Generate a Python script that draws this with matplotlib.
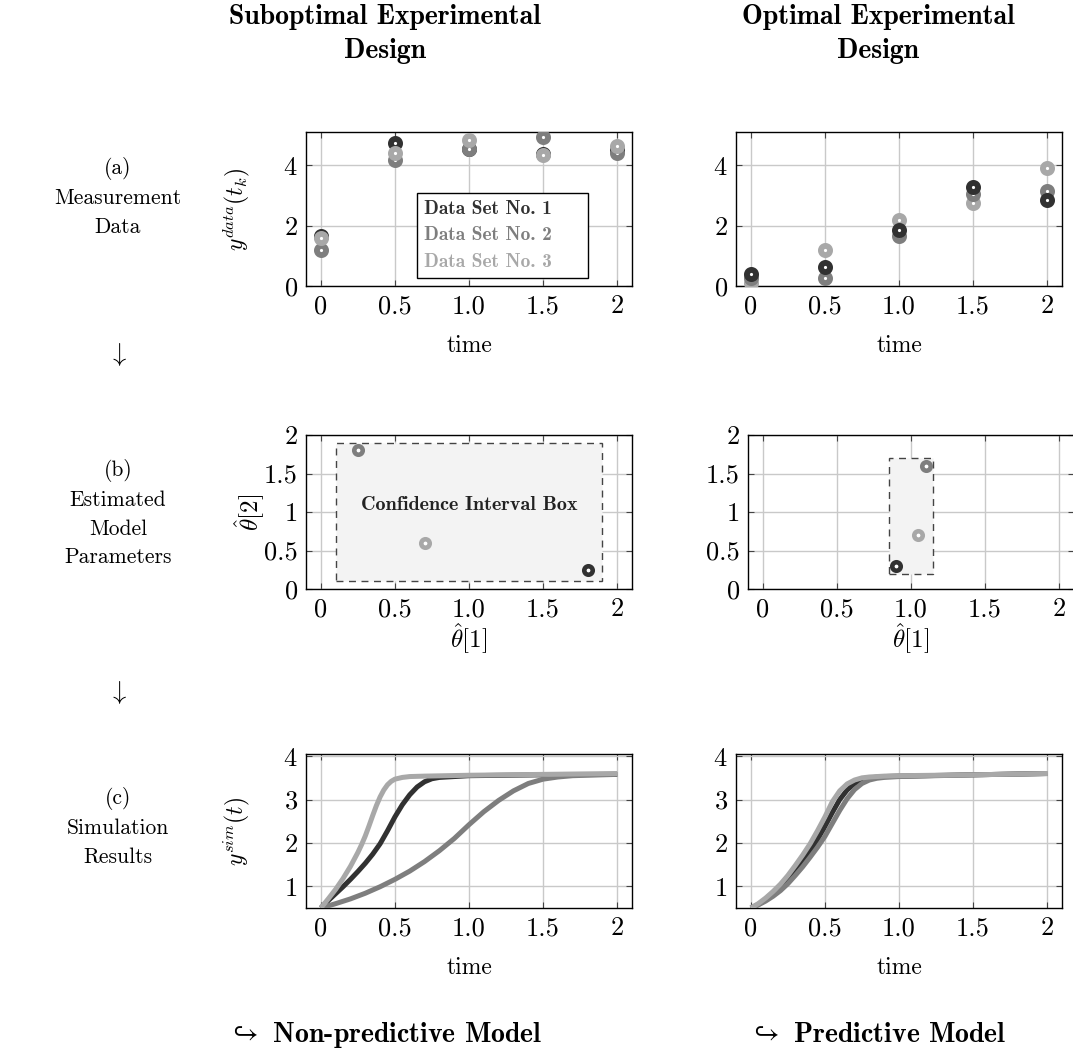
import matplotlib
matplotlib.use("Agg")
import matplotlib.pyplot as plt
from matplotlib.patches import Rectangle
from matplotlib.lines import Line2D

plt.rcParams['font.family'] = ['cmr10', 'DejaVu Serif']
plt.rcParams['mathtext.fontset'] = 'cm'
plt.rcParams['axes.formatter.use_mathtext'] = True

# ---------------- data ----------------
t_meas = [0, 0.5, 1.0, 1.5, 2.0]
# suboptimal design measurements
sub_set1 = [1.65, 4.75, 4.55, 4.37, 4.50]
sub_set2 = [1.20, 4.17, 4.53, 4.95, 4.40]
sub_set3 = [1.60, 4.42, 4.85, 4.33, 4.62]
# optimal design measurements
opt_set1 = [0.41, 0.64, 1.85, 3.28, 2.85]
opt_set2 = [0.25, 0.28, 1.65, 3.06, 3.15]
opt_set3 = [0.10, 1.19, 2.20, 2.76, 3.92]

# estimated parameters (theta1, theta2) for sets 1,2,3
sub_th1 = [1.80, 0.25, 0.70]
sub_th2 = [0.25, 1.80, 0.60]
opt_th1 = [0.90, 1.10, 1.05]
opt_th2 = [0.30, 1.60, 0.70]
# confidence interval boxes: (x0, x1, y0, y1)
sub_box = [0.1, 1.9, 0.1, 1.9]
opt_box = [0.85, 1.15, 0.2, 1.7]

# simulation results, suboptimal design
sim_sub_t1 = [0, 0.05, 0.1, 0.15, 0.2, 0.25, 0.3, 0.35, 0.4, 0.45, 0.5, 0.55, 0.6, 0.65, 0.7, 0.75, 0.8, 0.9, 1.0, 1.5, 2.0]
sim_sub_y1 = [0.5, 0.67, 0.83, 0.99, 1.16, 1.34, 1.53, 1.74, 1.98, 2.28, 2.6, 2.88, 3.11, 3.29, 3.41, 3.48, 3.51, 3.53, 3.55, 3.57, 3.58]
sim_sub_t2 = [0, 0.1, 0.2, 0.3, 0.4, 0.5, 0.6, 0.7, 0.8, 0.9, 1.0, 1.1, 1.2, 1.3, 1.4, 1.5, 1.6, 1.7, 1.8, 2.0]
sim_sub_y2 = [0.5, 0.6, 0.71, 0.84, 0.99, 1.16, 1.35, 1.57, 1.82, 2.1, 2.42, 2.72, 2.98, 3.2, 3.37, 3.47, 3.52, 3.55, 3.56, 3.58]
sim_sub_t3 = [0, 0.05, 0.1, 0.15, 0.2, 0.25, 0.275, 0.3, 0.325, 0.35, 0.375, 0.4, 0.425, 0.45, 0.475, 0.5, 0.55, 0.6, 0.7, 1.0, 1.5, 2.0]
sim_sub_y3 = [0.5, 0.71, 0.93, 1.18, 1.46, 1.78, 1.96, 2.16, 2.39, 2.63, 2.86, 3.06, 3.22, 3.34, 3.42, 3.47, 3.51, 3.53, 3.54, 3.56, 3.58, 3.6]
# simulation results, optimal design
sim_opt_t1 = [0, 0.05, 0.1, 0.15, 0.2, 0.25, 0.3, 0.35, 0.4, 0.45, 0.5, 0.55, 0.6, 0.65, 0.7, 0.75, 0.8, 0.9, 1.0, 1.5, 2.0]
sim_opt_y1 = [0.5, 0.58, 0.69, 0.82, 0.97, 1.15, 1.36, 1.58, 1.82, 2.08, 2.38, 2.7, 3.0, 3.22, 3.37, 3.45, 3.5, 3.53, 3.54, 3.57, 3.6]
sim_opt_t2 = [0, 0.05, 0.1, 0.15, 0.2, 0.25, 0.3, 0.35, 0.4, 0.45, 0.5, 0.55, 0.6, 0.65, 0.7, 0.75, 0.8, 0.85, 0.9, 1.0, 1.5, 2.0]
sim_opt_y2 = [0.5, 0.57, 0.66, 0.77, 0.9, 1.06, 1.25, 1.45, 1.67, 1.9, 2.15, 2.45, 2.75, 3.02, 3.23, 3.37, 3.45, 3.49, 3.51, 3.53, 3.57, 3.6]
sim_opt_t3 = [0, 0.05, 0.1, 0.15, 0.2, 0.25, 0.3, 0.35, 0.4, 0.45, 0.5, 0.55, 0.6, 0.65, 0.7, 0.75, 0.8, 0.9, 1.0, 1.5, 2.0]
sim_opt_y3 = [0.5, 0.6, 0.73, 0.88, 1.05, 1.25, 1.48, 1.72, 1.98, 2.28, 2.6, 2.95, 3.2, 3.36, 3.45, 3.5, 3.52, 3.54, 3.55, 3.57, 3.6]

x_ticks = [0, 0.5, 1.0, 1.5, 2.0]
x_ticklabels = ['0', '0.5', '1.0', '1.5', '2']
meas_yticks = [0, 2, 4]
par_yticks = [0, 0.5, 1, 1.5, 2]
par_yticklabels = ['0', '0.5', '1', '1.5', '2']
sim_yticks = [1, 2, 3, 4]
legend_labels = ['Data Set No. 1', 'Data Set No. 2', 'Data Set No. 3']
col_titles = ['Suboptimal Experimental\nDesign', 'Optimal Experimental\nDesign']
row_labels = ['(a)\nMeasurement\nData', '(b)\nEstimated\nModel\nParameters', '(c)\nSimulation\nResults']
bottom_labels = [r'$\hookrightarrow$ Non-predictive Model', r'$\hookrightarrow$ Predictive Model']

colors = ['#313131', '#7e7e7e', '#a8a8a8']

# ---------------- figure ----------------
W, H = 1073, 1059
fig = plt.figure(figsize=(W / 100, H / 100), dpi=100)

def px_axes(left, top, right, bottom):
    return fig.add_axes([left / W, 1 - bottom / H, (right - left) / W, (bottom - top) / H])

FS = 19     # tick labels
LFS = 17    # axis labels
RFS = 15.5  # row labels

def style(ax):
    ax.grid(True, color='#c9c9c9', linewidth=1.0)
    ax.set_axisbelow(True)
    ax.tick_params(direction='in', top=True, right=True, length=4, width=0.8,
                   color='#444444', labelsize=FS, pad=6)
    for s in ax.spines.values():
        s.set_linewidth(1.0)
        s.set_color('black')

ax_tl = px_axes(306, 132, 632, 286)
ax_tr = px_axes(736, 132, 1062, 286)
ax_ml = px_axes(306, 435, 632, 589)
ax_mr = px_axes(748, 435, 1074, 589)
ax_bl = px_axes(306, 754, 632, 908)
ax_br = px_axes(736, 754, 1062, 908)

ms_top, mew_top = 6.6, 4.2

# --- measurement data ---
for ax, sets, order in [(ax_tl, [sub_set1, sub_set2, sub_set3], [0, 1, 2]),
                        (ax_tr, [opt_set1, opt_set2, opt_set3], [2, 1, 0])]:
    for k, i in enumerate(order):
        ax.plot(t_meas, sets[i], linestyle='none', marker='o', ms=ms_top, mew=mew_top,
                mec=colors[i], mfc='white', zorder=3 + k)
    ax.set_xlim(-0.1, 2.1)
    ax.set_ylim(0, 5.1)
    ax.set_xticks(x_ticks)
    ax.set_xticklabels(x_ticklabels)
    ax.set_yticks(meas_yticks)
    ax.set_xlabel('time', fontsize=LFS, labelpad=12)
    style(ax)
ax_tl.set_ylabel(r'$y^{data}(t_k)$', fontsize=LFS, labelpad=22)

handles = [Line2D([], [], linestyle='none') for _ in legend_labels]
leg = ax_tl.legend(handles, legend_labels, loc='lower left',
                   bbox_to_anchor=(0.34, 0.052, 0.525, 0.558), mode='expand',
                   handlelength=0, handletextpad=0, fancybox=False, framealpha=1,
                   edgecolor='black', prop={'family': 'cmb10', 'size': 14},
                   labelspacing=0.45, borderpad=0.35, borderaxespad=0)
leg.get_frame().set_linewidth(1.0)
for txt, c in zip(leg.get_texts(), colors):
    txt.set_color(c)

# --- estimated parameters ---
for ax, th1, th2, box in [(ax_ml, sub_th1, sub_th2, sub_box), (ax_mr, opt_th1, opt_th2, opt_box)]:
    x0, x1, y0, y1 = box
    ax.add_patch(Rectangle((x0, y0), x1 - x0, y1 - y0, facecolor='#f3f3f3',
                           edgecolor='#444444', linestyle=(0, (5, 4)), linewidth=1.0, zorder=2))
    for i in range(3):
        ax.plot([th1[i]], [th2[i]], linestyle='none', marker='o', ms=6.1, mew=3.3,
                mec=colors[i], mfc='white', zorder=4)
    ax.set_xlim(-0.1, 2.1)
    ax.set_ylim(0, 2)
    ax.set_xticks(x_ticks)
    ax.set_xticklabels(x_ticklabels)
    ax.set_yticks(par_yticks)
    ax.set_yticklabels(par_yticklabels)
    ax.set_xlabel(r'$\hat{\theta}[1]$', fontsize=LFS + 1, labelpad=0)
    style(ax)
ax_ml.set_ylabel(r'$\hat{\theta}[2]$', fontsize=LFS + 1, labelpad=-2)
ax_ml.text(1.0, 1.09, 'Confidence Interval Box', ha='center', va='center',
           fontsize=14.5, family='cmb10', color='#222222', zorder=5)

# --- simulation ---
sims = [(ax_bl, [(sim_sub_t1, sim_sub_y1), (sim_sub_t2, sim_sub_y2), (sim_sub_t3, sim_sub_y3)]),
        (ax_br, [(sim_opt_t1, sim_opt_y1), (sim_opt_t2, sim_opt_y2), (sim_opt_t3, sim_opt_y3)])]
for ax, curves in sims:
    for i in [0, 1, 2]:
        tt, yy = curves[i]
        ax.plot(tt, yy, color=colors[i], linewidth=3.6, solid_capstyle='butt',
                solid_joinstyle='round', zorder=3 + i)
    ax.set_xlim(-0.1, 2.1)
    ax.set_ylim(0.5, 4.05)
    ax.set_xticks(x_ticks)
    ax.set_xticklabels(x_ticklabels)
    ax.set_yticks(sim_yticks)
    ax.set_xlabel('time', fontsize=LFS, labelpad=12)
    style(ax)
ax_bl.set_ylabel(r'$y^{sim}(t)$', fontsize=LFS, labelpad=22)

# --- annotations ---
fig.text(385 / W, 1 - 34 / H, col_titles[0], ha='center', va='center', family='cmb10',
         fontsize=20, linespacing=1.35)
fig.text(878 / W, 1 - 34 / H, col_titles[1], ha='center', va='center', family='cmb10',
         fontsize=20, linespacing=1.35)
fig.text(118 / W, 1 - 197 / H, row_labels[0], ha='center', va='center', fontsize=RFS, linespacing=1.55)
fig.text(118 / W, 1 - 513 / H, row_labels[1], ha='center', va='center', fontsize=RFS, linespacing=1.55)
fig.text(118 / W, 1 - 827 / H, row_labels[2], ha='center', va='center', fontsize=RFS, linespacing=1.55)
fig.text(118 / W, 1 - 355 / H, r'$\downarrow$', ha='center', va='center', fontsize=19)
fig.text(118 / W, 1 - 693 / H, r'$\downarrow$', ha='center', va='center', fontsize=19)
fig.text(385 / W, 1 - 1035 / H, bottom_labels[0], ha='center', va='center', family='cmb10', fontsize=20)
fig.text(878 / W, 1 - 1035 / H, bottom_labels[1], ha='center', va='center', family='cmb10', fontsize=20)

fig.savefig('out.png', dpi=100)
